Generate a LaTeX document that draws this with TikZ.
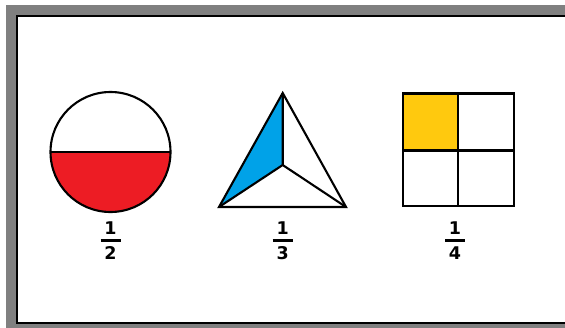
\documentclass[tikz,border=0pt]{standalone}
\usepackage{fontspec}
\setmainfont{DejaVu Sans}
\begin{document}
\begin{tikzpicture}[x=1pt,y=-1pt,
  outl/.style={draw=black,line width=2.1pt,line join=miter},
  frac/.style={font=\fontsize{17.5}{17.5}\selectfont\bfseries,inner sep=0pt},
  fracbar/.style={line width=2.1pt}]
\definecolor{framegray}{HTML}{808080}
\definecolor{pred}{HTML}{ED1C24}
\definecolor{pblue}{HTML}{00A2E8}
\definecolor{pyellow}{HTML}{FFC90E}
\useasboundingbox (0,0) rectangle (565,327);
\fill[white] (0,0) rectangle (565,327);
% frame
\fill[framegray] (6,5) rectangle (570,332);
\draw[fill=white,line width=2pt] (17,16) rectangle (575,322.6);
% circle 1/2
\coordinate (cc) at (110.5,152);
\fill[pred] (50.5,152) arc[start angle=180,end angle=0,radius=60] -- cycle;
\draw[outl] (cc) circle[radius=60];
\draw[outl] (50.5,152) -- (170.5,152);
% triangle 1/3
\coordinate (ta) at (282.7,93);
\coordinate (tb) at (219,207);
\coordinate (tc) at (346,207);
\coordinate (to) at (282.7,165);
\fill[pblue] (ta) -- (to) -- (tb) -- cycle;
\draw[outl] (ta) -- (tb) -- (tc) -- cycle;
\draw[outl] (ta) -- (to) -- (tb) (to) -- (tc);
% square 1/4
\fill[pyellow] (403,93.5) rectangle (458,150.5);
\draw[outl] (403,93.5) rectangle (514,206);
\draw[outl] (458,93.5) -- (458,206) (403,150.5) -- (514,150.5);
% fractions
\node[frac] (n1) at (110.5,228) {1};
\node[frac] (d1) at (110.5,252.8) {2};
\draw[fracbar] (100.5,240.5) -- (120.5,240.5);
\node[frac] (n2) at (282.7,228) {1};
\node[frac] (d2) at (282.7,252.8) {3};
\draw[fracbar] (272.7,240.5) -- (292.7,240.5);
\node[frac] (n3) at (455,228) {1};
\node[frac] (d3) at (455,252.8) {4};
\draw[fracbar] (445,240.5) -- (465,240.5);
\end{tikzpicture}
\end{document}
